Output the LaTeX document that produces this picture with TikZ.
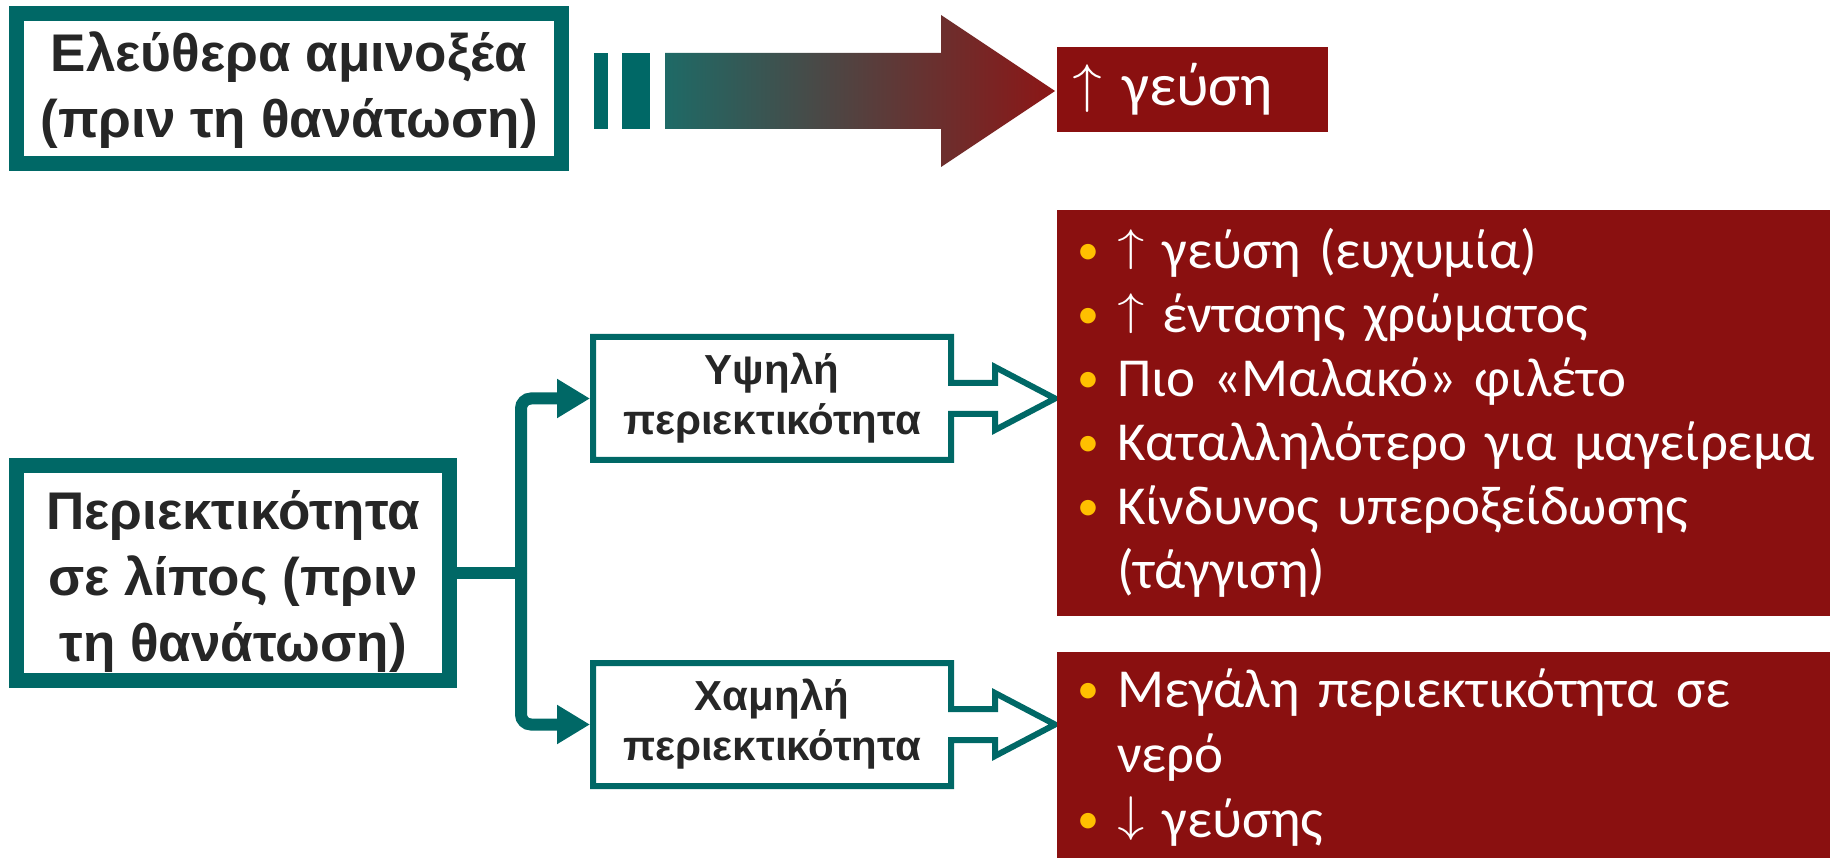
\documentclass[tikz,border=0pt]{standalone}
\usepackage{graphicx}
\usepackage{fontspec}
\setmainfont{Liberation Sans}
\newfontfamily\calfont{Carlito}
\newfontfamily\lmarrows{latinmodern-math.otf}
\usetikzlibrary{arrows.meta}
\definecolor{tealc}{RGB}{0,104,102}
\definecolor{dred}{RGB}{138,16,16}
\definecolor{ink}{RGB}{38,38,38}
\definecolor{byel}{RGB}{255,192,0}
\definecolor{gradA}{RGB}{30,106,102}
\definecolor{gradB}{RGB}{88,84,82}
\definecolor{gradC}{RGB}{140,22,22}
% bullet and hanging indent
\newcommand{\bi}{\hspace*{20pt}\makebox[40pt][l]{\raisebox{4pt}{\textcolor{byel}{\fontsize{44}{44}\selectfont\textbullet}}}}
\newcommand{\cont}{\hspace*{60pt}}
% thin arrow glyphs: vertical scale, raise
\newcommand{\arrg}[3]{\raisebox{#2}{\scalebox{1}[#1]{\lmarrows #3}}}
\begin{document}
\begin{tikzpicture}[x=1pt,y=-1pt,
  thickbox/.style={draw=tealc, line width=15pt, fill=white, text=ink,
    font=\fontsize{53}{66}\selectfont\bfseries, align=center, inner sep=0pt},
  thinbox/.style={text=ink, font=\fontsize{42}{50}\selectfont\bfseries,
    align=center, minimum width=358pt, minimum height=123pt, inner sep=0pt, outer sep=3pt},
  redbox/.style={fill=dred, text=white, align=left, inner ysep=0pt},
  trunk/.style={draw=tealc, line width=12pt},
  hollow/.style={draw=tealc, line width=6pt, line join=miter},
]
\useasboundingbox (0,0) rectangle (1832,858);

% top row
\node[thickbox, minimum width=545pt, minimum height=150pt] (amino) at (289,88.5)
  {\rule{0pt}{44pt}Ελεύθερα αμινοξέα\\(πριν τη θανάτωση)};
\fill[tealc] (594,53) rectangle (608,129);
\fill[tealc] (622,53) rectangle (650,129);
\shade[left color=gradA, middle color=gradB, right color=gradC]
  (665,53) -- (941,53) -- (941,15) -- (1055,91) -- (941,167) -- (941,129) -- (665,129) -- cycle;
\node[redbox, font=\calfont\fontsize{60}{64}\selectfont, minimum height=85pt,
  text width=240pt, inner xsep=15.5pt] (taste) at (1192.5,89.5)
  {\arrg{0.9}{4.5pt}{↑}\ γεύση};

% left box and branches
\node[thickbox, minimum width=433pt, minimum height=215pt] (fat) at (233,573)
  {\rule{0pt}{56pt}Περιεκτικότητα\\σε λίπος (πριν\\τη θανάτωση)};
\node[thinbox] (hi) at (772,398.5) {Υψηλή\\περιεκτικότητα};
\node[thinbox] (lo) at (772,724.5) {Χαμηλή\\περιεκτικότητα};
\coordinate (j) at (521,573);
\draw[trunk] (fat.east) -- (j);
\draw[trunk, rounded corners=10pt, -{Triangle[length=33pt,width=37pt]}] (j) |- (hi.west);
\draw[trunk, rounded corners=10pt, -{Triangle[length=33pt,width=37pt]}] (j) |- (lo.west);

% hollow block outlines with arrows
\draw[hollow] (951,383) -- (951,337) -- (593,337) -- (593,460) -- (951,460) -- (951,414)
  -- (995,414) -- (995,430) -- (1055,398.5) -- (995,367) -- (995,383) -- cycle;
\draw[hollow] (951,709) -- (951,663) -- (593,663) -- (593,786) -- (951,786) -- (951,740)
  -- (995,740) -- (995,756) -- (1055,724.5) -- (995,693) -- (995,709) -- cycle;

% result lists
\node[redbox, font=\calfont\fontsize{55}{64}\selectfont, minimum height=406pt,
  text width=773pt, inner xsep=0pt] (hilist) at (1443.5,413)
  {\bi\arrg{0.82}{8.5pt}{↑}\ γεύση (ευχυμία)\\
   \bi\arrg{0.82}{8.5pt}{↑}\ έντασης χρώματος\\
   \bi Πιο «Μαλακό» φιλέτο\\
   \bi Καταλληλότερο για μαγείρεμα\\
   \bi Κίνδυνος υπεροξείδωσης\\
   \cont(τάγγιση)};
\node[redbox, font=\calfont\fontsize{55}{65}\selectfont, minimum height=211pt,
  text width=773pt, inner xsep=0pt] (lolist) at (1443.5,757.5)
  {\bi Μεγάλη περιεκτικότητα σε\\
   \cont νερό\\
   \bi\arrg{0.9}{6pt}{↓}\ γεύσης};
\end{tikzpicture}
\end{document}
